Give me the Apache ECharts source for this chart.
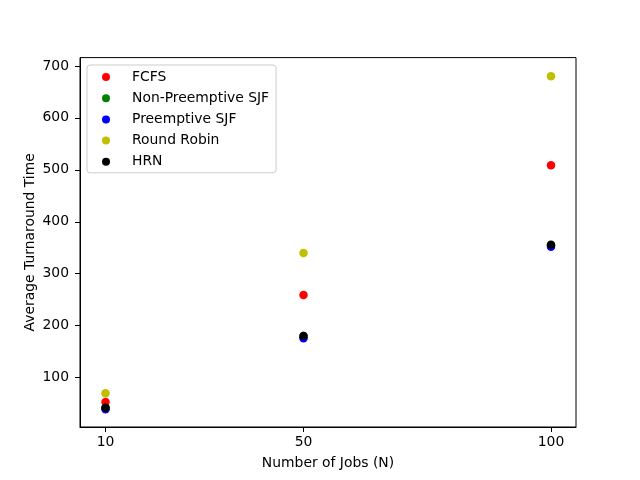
<!DOCTYPE html>
<html>
<head>
<meta charset="utf-8">
<script src="https://cdn.jsdelivr.net/npm/echarts@6/dist/echarts.min.js"></script>
<style>
	html, body { margin: 0; padding: 0; background: #fff; }
	#chart { width: 640px; height: 480px; }
</style>
</head>
<body>
<div id="chart"></div>
<script>
// job counts on the x axis
var jobs = [10, 50, 100];

// average turnaround time per algorithm
var fcfs = [53, 259, 509];
var nonPreemptiveSjf = [42, 180, 355];
var preemptiveSjf = [39, 176, 352];
var roundRobin = [70, 340, 680];
var hrn = [42, 180, 356];

var xTicks = [10, 50, 100];
var yTicks = [100, 200, 300, 400, 500, 600, 700];

var seriesNames = ["FCFS", "Non-Preemptive SJF", "Preemptive SJF", "Round Robin", "HRN"];
var seriesData = [fcfs, nonPreemptiveSjf, preemptiveSjf, roundRobin, hrn];
var seriesColors = ["#ff0000", "#008000", "#0000ff", "#bfbf00", "#000000"];

var font = "DejaVu Sans";

function pairs(values) {
	var out = [];
	for (var i = 0; i < jobs.length; i++) {
		out.push([jobs[i], values[i]]);
	}
	return out;
}

var series = [];
for (var i = 0; i < seriesNames.length; i++) {
	series.push({
		name: seriesNames[i],
		type: "scatter",
		symbol: "circle",
		symbolSize: 8.5,
		itemStyle: { color: seriesColors[i], opacity: 1 },
		animation: false,
		data: pairs(seriesData[i])
	});
}

var chart = echarts.init(document.getElementById("chart"), null, { renderer: "canvas" });
chart.setOption({
	backgroundColor: "#fff",
	animation: false,
	grid: {
		left: 80,
		right: 64,
		top: 57.6,
		bottom: 53,
		show: true,
		borderColor: "#000",
		borderWidth: 1
	},
	legend: {
		orient: "vertical",
		left: 87,
		top: 65,
		padding: [5, 7, 4, 15],
		itemGap: 7.2,
		itemWidth: 8,
		itemHeight: 8,
		icon: "circle",
		borderColor: "#cccccc",
		borderWidth: 1,
		borderRadius: 3,
		backgroundColor: "rgba(255,255,255,0.8)",
		textStyle: {
			fontFamily: font,
			fontSize: 13.9,
			color: "#000",
			lineHeight: 14,
			padding: [0, 0, 0, 17]
		},
		data: seriesNames
	},
	xAxis: {
		type: "value",
		min: 4.85,
		max: 105.05,
		name: "Number of Jobs (N)",
		nameLocation: "middle",
		nameGap: 29,
		nameMoveOverlap: false,
		nameTextStyle: { fontFamily: font, fontSize: 13.9, color: "#000" },
		axisLine: { show: true, lineStyle: { color: "#000", width: 1 } },
		axisTick: { show: true, length: 5, lineStyle: { color: "#000" }, customValues: xTicks },
		axisLabel: { fontFamily: font, fontSize: 13.9, color: "#000", margin: 8, customValues: xTicks },
		splitLine: { show: false }
	},
	yAxis: {
		type: "value",
		min: 5,
		max: 716,
		name: "Average Turnaround Time",
		nameLocation: "middle",
		nameRotate: 90,
		nameGap: 43,
		nameMoveOverlap: false,
		nameTextStyle: { fontFamily: font, fontSize: 13.9, color: "#000" },
		axisLine: { show: true, lineStyle: { color: "#000", width: 1 } },
		axisTick: { show: true, length: 5, lineStyle: { color: "#000" }, customValues: yTicks },
		axisLabel: { fontFamily: font, fontSize: 13.9, color: "#000", margin: 11, customValues: yTicks },
		splitLine: { show: false }
	},
	series: series
});
</script>
</body>
</html>
